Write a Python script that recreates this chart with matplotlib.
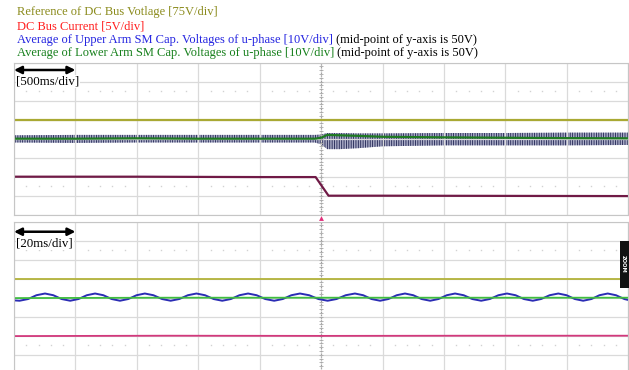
import numpy as np
import matplotlib.pyplot as plt
from matplotlib.patches import Rectangle

plt.rcParams['font.family'] = ['Liberation Serif', 'DejaVu Serif']
plt.rcParams['hatch.linewidth'] = 0.6

# ---- data read from the scope screen, values in divisions (0 = bottom, 8 = top)
# upper window: 500 ms/div
top_yellow_t = [0, 5000]
top_yellow = [5.0, 5.0]

top_band_t = [0, 500, 1000, 1500, 2000, 2450, 2500, 2550, 2650, 2800, 3000, 3500, 4000, 4500, 5000]
top_band_hi = [4.18, 4.2, 4.2, 4.2, 4.2, 4.2, 4.22, 4.3, 4.3, 4.28, 4.28, 4.3, 4.3, 4.32, 4.32]
top_band_lo = [3.8, 3.78, 3.8, 3.8, 3.8, 3.8, 3.7, 3.45, 3.45, 3.5, 3.6, 3.65, 3.65, 3.65, 3.67]
top_green = [4.0, 4.0, 4.02, 4.0, 4.0, 4.0, 4.05, 4.2, 4.18, 4.15, 4.1, 4.07, 4.05, 4.03, 4.02]

top_current_t = [0, 1000, 2000, 2455, 2560, 3000, 4000, 5000]
top_current = [2.0, 2.0, 1.98, 1.98, 1.0, 1.0, 0.99, 0.98]

trigger_t = 2500

# lower window: 20 ms/div
bot_yellow_t = [0, 200]
bot_yellow = [5.0, 5.0]

bot_green_t = [0, 50, 100, 150, 200]
bot_green = [3.98, 4.0, 4.0, 4.0, 4.0]

bot_blue_t = [0.0, 1.8, 4.6, 7.3, 10.1, 12.8, 15.5, 18.3, 21.0, 23.7, 26.4, 29.1,
              31.8, 34.5, 37.2, 39.9, 42.6, 45.4, 48.2, 51.0, 53.8, 56.6, 59.4,
              62.2, 65.0, 67.8, 70.6, 73.4, 76.2, 79.0, 81.8, 84.7, 87.5, 90.3,
              93.1, 96.1, 99.1, 102.1, 105.0, 108.0, 111.0, 113.7, 116.4, 119.2,
              121.9, 124.6, 127.3, 130.0, 132.7, 135.5, 138.2, 140.9, 143.6,
              146.4, 149.2, 152.1, 154.9, 157.7, 160.5, 163.3, 166.0, 168.9,
              171.6, 174.4, 177.2, 179.9, 182.6, 185.3, 188.0, 190.6, 193.3,
              196.0, 198.7, 200.0]
bot_blue = [3.86, 3.84, 3.93, 4.13, 4.22, 4.13, 3.93, 3.84, 3.93, 4.13, 4.22, 4.13,
            3.93, 3.84, 3.93, 4.13, 4.22, 4.13, 3.93, 3.84, 3.93, 4.13, 4.22,
            4.13, 3.93, 3.84, 3.93, 4.13, 4.22, 4.13, 3.93, 3.84, 3.93, 4.13,
            4.22, 4.13, 3.93, 3.84, 3.93, 4.13, 4.22, 4.13, 3.93, 3.84,
            3.93, 4.13, 4.22, 4.13, 3.93, 3.84, 3.93, 4.13, 4.22,
            4.13, 3.93, 3.84, 3.93, 4.13, 4.22, 4.13, 3.93, 3.84,
            3.93, 4.13, 4.22, 4.13, 3.93, 3.84, 3.93, 4.13, 4.22,
            4.13, 3.93, 3.88]

bot_current_t = [0, 50, 100, 150, 200]
bot_current = [1.98, 2.0, 1.99, 2.0, 2.0]

W, H = 629, 370
fig = plt.figure(figsize=(W / 100, H / 100), dpi=100)


def px_axes(left, top, right, bottom):
    return fig.add_axes([left / W, 1 - bottom / H, (right - left) / W, (bottom - top) / H])


def screen(ax, span):
    div = span / 10
    ax.set_xlim(0, span)
    ax.set_ylim(0, 8)
    ax.set_xticks(np.arange(0, span + div / 2, div))
    ax.set_yticks(np.arange(0, 9, 1))
    ax.grid(True, color='#dadada', lw=0.9)
    ax.tick_params(length=0, labelbottom=False, labelleft=False)
    for s in ax.spines.values():
        s.set_color('#c6c6c6')
    # dotted rows
    xs = [i * div / 5 for i in range(50) if i % 5]
    for yy in (1.5, 6.5):
        ax.plot(xs, [yy] * len(xs), ls='none', marker='s', ms=1.0, color='#d2d2d2', mec='none')
    # centre line with small ticks
    ax.axvline(span / 2, ls=(0, (1, 1.5)), color='#9a9a9a', lw=0.8)
    ys = np.arange(0, 8.01, 0.2)
    ax.plot([span / 2] * len(ys), ys, ls='none', marker='_', ms=3, mew=0.6, color='#a8a8a8')


ax1 = px_axes(14, 62.7, 628.3, 214.7)
screen(ax1, 5000)
ax1.plot(top_yellow_t, top_yellow, color='#a9a933', lw=1.6)
ax1.fill_between(top_band_t, top_band_lo, top_band_hi, facecolor='#a9abc6',
                 edgecolor='#1d2150', hatch='|' * 7, lw=0)
ax1.plot(top_band_t, top_green, color='#1f7a22', lw=1.6)
ax1.plot(top_current_t, top_current, color='#701a46', lw=1.6)
ax1.plot(trigger_t, -0.17, marker='^', ms=3.5, color='#e0307a', mec='none', clip_on=False)

ax2 = px_axes(14, 221.7, 628.3, 373.7)
screen(ax2, 200)
ax2.plot(bot_yellow_t, bot_yellow, color='#b3b33a', lw=1.3)
ax2.plot(bot_blue_t, bot_blue, color='#2a2cb4', lw=1.4)
ax2.plot(bot_green_t, bot_green, color='#3fbd3f', lw=1.3)
ax2.plot(bot_current_t, bot_current, color='#d2387c', lw=1.3)

# ZOOM tab on the right
ax2.add_patch(Rectangle((0.9865, 0.564), 0.04, 0.311, transform=ax2.transAxes,
                        facecolor='#111111', edgecolor='none', clip_on=False, zorder=5))
ax2.text(0.9925, 0.72, 'ZOOM', transform=ax2.transAxes, rotation=-90, color='white',
         fontsize=3.8, fontweight='bold', family='DejaVu Sans', ha='center', va='center', zorder=6)

# time scale markers
for ax, ya, yt, lbl in ((ax1, 0.952, 0.875, '[500ms/div]'), (ax2, 0.934, 0.858, '[20ms/div]')):
    ax.annotate('', xy=(0.1, ya), xytext=(0.0, ya), xycoords='axes fraction',
                arrowprops=dict(arrowstyle='<|-|>', color='black', lw=1.8, mutation_scale=11,
                                shrinkA=0, shrinkB=0))
    ax.text(0.004, yt, lbl, transform=ax.transAxes, fontsize=9.3, va='center', ha='left',
            bbox=dict(fc='white', ec='none', pad=0.3), zorder=4)

# header lines
hx = 16.7 / W
fs = 9
fig.text(hx, 1 - 12 / H, 'Reference of DC Bus Votlage [75V/div]', color='#8b8b1c', fontsize=fs, va='center')
fig.text(hx, 1 - 26.7 / H, 'DC Bus Current [5V/div]', color='#ff1f1f', fontsize=fs, va='center')
t3 = fig.text(hx, 1 - 40 / H, 'Average of Upper Arm SM Cap. Voltages of u-phase [10V/div]',
              color='#2424e0', fontsize=fs, va='center')
t4 = fig.text(hx, 1 - 53.3 / H, 'Average of Lower Arm SM Cap. Voltages of u-phase [10V/div]',
              color='#17801c', fontsize=fs, va='center')
for t in (t3, t4):
    ax1.annotate(' (mid-point of y-axis is 50V)', xy=(1, 0.5), xycoords=t, va='center', ha='left',
                 fontsize=fs, color='black', annotation_clip=False)

fig.savefig('out.png', dpi=100, facecolor='white')
